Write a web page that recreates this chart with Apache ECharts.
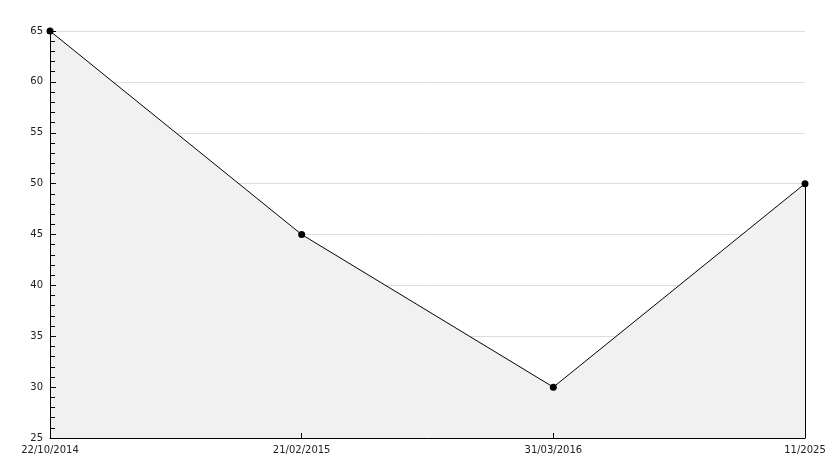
<!DOCTYPE html>
<html><head><meta charset="utf-8">
<script src="https://cdn.jsdelivr.net/npm/echarts@6/dist/echarts.min.js"></script>
<style>html,body{margin:0;padding:0;background:#fff}#c{width:834px;height:468px}</style>
</head><body><div id="c"></div>
<script>
const categories = ['22/10/2014', '21/02/2015', '31/03/2016', '11/2025'];
const values = [65, 45, 30, 50];
const yMin = 25, yMax = 65, yStep = 5;

const chart = echarts.init(document.getElementById('c'), null, {renderer: 'canvas'});
const lastIdx = categories.length - 1;
chart.setOption({
  animation: false,
  backgroundColor: '#fff',
  grid: {left: 50, right: 29, top: 31, bottom: 30, containLabel: false},
  xAxis: {
    type: 'category', data: categories, boundaryGap: false, z: 10,
    axisLine: {lineStyle: {color: '#000', width: 1}},
    axisTick: {show: true, inside: true, length: 5, alignWithLabel: true, lineStyle: {color: '#000', width: 1}},
    axisLabel: {color: '#222', fontFamily: 'DejaVu Sans', fontSize: 10, margin: 7,
      showMinLabel: true, showMaxLabel: true, interval: 0},
    splitLine: {show: false}
  },
  yAxis: [{
    type: 'value', min: yMin, max: yMax, interval: yStep, z: 0,
    axisLine: {show: false},
    axisTick: {show: false},
    axisLabel: {color: '#222', fontFamily: 'DejaVu Sans', fontSize: 10, margin: 7},
    splitLine: {show: true, lineStyle: {color: '#dddddd', width: 1}}
  }, {
    type: 'value', min: yMin, max: yMax, interval: yStep, z: 10, position: 'left',
    axisLine: {show: true, lineStyle: {color: '#000', width: 1}},
    axisTick: {show: true, inside: true, length: 6, lineStyle: {color: '#000', width: 1}},
    minorTick: {show: true, splitNumber: 5, length: 5, lineStyle: {color: '#000', width: 1}},
    axisLabel: {show: false},
    splitLine: {show: false}
  }],
  series: [{
    type: 'line', data: values, yAxisIndex: 0,
    symbol: 'circle', symbolSize: 7,
    itemStyle: {color: '#000'},
    lineStyle: {color: '#000', width: 1},
    areaStyle: {color: '#f1f1f1', opacity: 1},
    markLine: {
      silent: true, symbol: 'none', label: {show: false},
      lineStyle: {color: '#000', width: 1, type: 'solid'},
      data: [[{coord: [lastIdx, values[lastIdx]]}, {coord: [lastIdx, yMin]}]]
    }
  }]
});
</script></body></html>
